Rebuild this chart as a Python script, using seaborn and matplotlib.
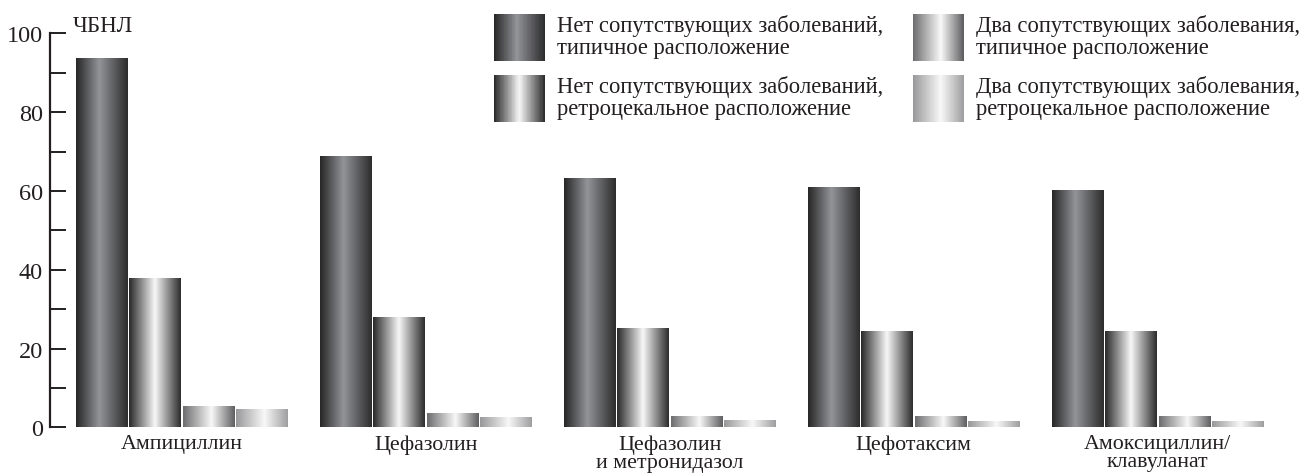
import numpy as np
import pandas as pd
import matplotlib
matplotlib.use("Agg")
import matplotlib.pyplot as plt
import seaborn as sns
from matplotlib.colors import LinearSegmentedColormap
from matplotlib.patches import Patch, Rectangle
from matplotlib.legend_handler import HandlerBase
from matplotlib.ticker import MultipleLocator

# Data
drugs = ["Ампициллин", "Цефазолин", "Цефазолин\nи метронидазол",
         "Цефотаксим", "Амоксициллин/\nклавуланат"]
groups = ["Нет сопутствующих заболеваний,\nтипичное расположение",
          "Нет сопутствующих заболеваний,\nретроцекальное расположение",
          "Два сопутствующих заболевания,\nтипичное расположение",
          "Два сопутствующих заболевания,\nретроцекальное расположение"]
no_typ = [93.5, 68.6, 63.0, 60.7, 60.0]
no_retro = [37.6, 27.9, 24.9, 24.2, 24.2]
two_typ = [5.1, 3.4, 2.7, 2.7, 2.7]
two_retro = [4.4, 2.4, 1.6, 1.4, 1.4]
y_ticks = [0, 20, 40, 60, 80, 100]

df = pd.DataFrame({
    "drug": drugs * 4,
    "group": np.repeat(groups, len(drugs)),
    "value": no_typ + no_retro + two_typ + two_retro,
})

# horizontal "cylinder" gradients for each series
grad_specs = [
    [(0.0, "#262626"), (0.45, "#939499"), (1.0, "#2c2c2c")],
    [(0.0, "#282828"), (0.5, "#f7f7f7"), (1.0, "#2c2c2c")],
    [(0.0, "#6c6c6e"), (0.55, "#f8f8f8"), (1.0, "#5e5e60")],
    [(0.0, "#98989a"), (0.55, "#f8f8f8"), (1.0, "#9e9ea0")],
]
cmaps = [LinearSegmentedColormap.from_list(f"g{i}", s) for i, s in enumerate(grad_specs)]

sns.set_style("white")
plt.rcParams["font.family"] = ["Liberation Serif", "DejaVu Serif"]
ink = "#231f20"

fig = plt.figure(figsize=(13.08, 4.77), dpi=100)
ax = fig.add_axes([50 / 1308, 48.7 / 477, 1254 / 1308, 394 / 477])

sns.barplot(data=df, x="drug", y="value", hue="group", hue_order=groups,
            order=drugs, width=0.873, gap=0.04, palette=["#555"] * 4,
            legend=False, ax=ax)

# replace flat fills by gradient images
grad = np.linspace(0, 1, 256).reshape(1, -1)
for cont, cm in zip(ax.containers, cmaps):
    for bar in cont:
        x0, w, h = bar.get_x(), bar.get_width(), bar.get_height()
        bar.set_facecolor("none")
        bar.set_edgecolor("none")
        ax.imshow(grad, cmap=cm, extent=[x0, x0 + w, 0, h], aspect="auto",
                  interpolation="bilinear", zorder=2)

ax.set_xlim(-0.539, 4.6)
ax.set_ylim(0, 100)
ax.set_xlabel("")
ax.set_ylabel("")
for s in ["top", "right", "bottom"]:
    ax.spines[s].set_visible(False)
ax.spines["left"].set_linewidth(1.6)
ax.spines["left"].set_color(ink)

ax.set_yticks(y_ticks)
ax.yaxis.set_minor_locator(MultipleLocator(10))
ax.tick_params(axis="y", which="both", left=True, direction="in", length=11.5,
               width=1.4, color=ink, labelsize=17.5, labelcolor=ink, pad=5)
ax.tick_params(axis="x", length=0, labelsize=15.8, labelcolor=ink, pad=5)
for lab in ax.get_xticklabels():
    lab.set_linespacing(0.92)

ax.text(0.0183, 1.005, "ЧБНЛ", transform=ax.transAxes, fontsize=16.5,
        color=ink, va="baseline", ha="left")


class GradientHandler(HandlerBase):
    def __init__(self, cmap):
        super().__init__()
        self.cmap = cmap

    def create_artists(self, legend, orig_handle, xdescent, ydescent,
                       width, height, fontsize, trans):
        n = 64
        arts = []
        for k in range(n):
            r = Rectangle((-xdescent + width * k / n, -ydescent),
                          width / n * 1.08, height,
                          facecolor=self.cmap((k + 0.5) / n),
                          edgecolor="none", transform=trans)
            arts.append(r)
        return arts


handles = [Patch() for _ in groups]
hmap = {h: GradientHandler(cm) for h, cm in zip(handles, cmaps)}
leg = fig.legend(handles, groups, handler_map=hmap, ncol=2, frameon=False,
                 loc="upper left", bbox_to_anchor=(494 / 1308, 1 - 15 / 477),
                 fontsize=16.3, handlelength=2.25, handleheight=2.8,
                 handletextpad=0.55, labelspacing=0.62, columnspacing=1.3,
                 borderpad=0, borderaxespad=0)
for t in leg.get_texts():
    t.set_color(ink)
    t.set_linespacing(1.05)

fig.savefig("out.png", dpi=100)
